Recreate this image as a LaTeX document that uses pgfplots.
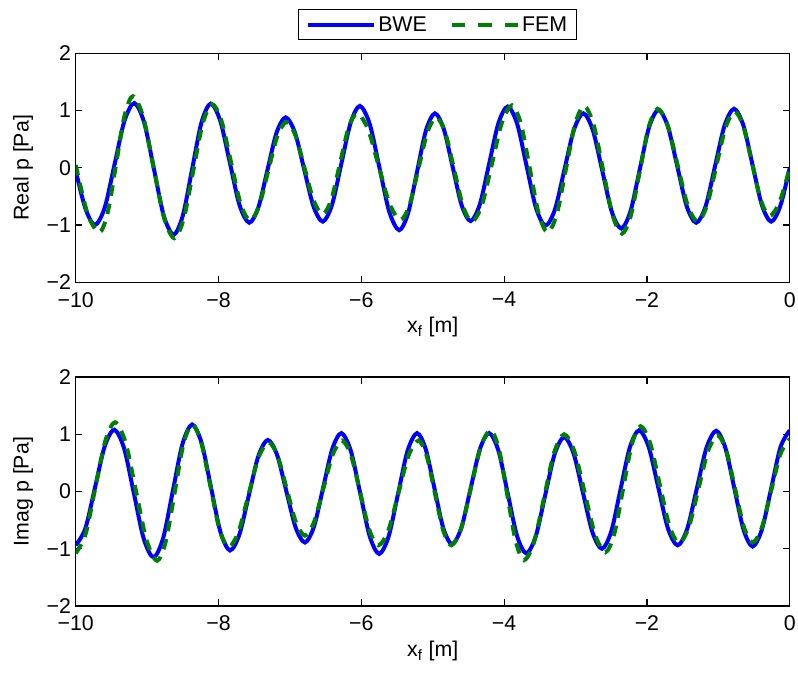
\documentclass[border=0pt]{standalone}
\usepackage{pgfplots}
\pgfplotsset{compat=1.18}
\usepackage{fontspec}
\setmainfont{Liberation Sans}
\definecolor{mblue}{rgb}{0,0,1}
\definecolor{mgreen}{rgb}{0,0.5,0}
\pgfplotsset{
 myaxis/.style={
  scale only axis, width=535.5pt, height=171.75pt,
  xmin=-10,xmax=0,ymin=-2,ymax=2,
  xtick={-10,-8,-6,-4,-2,0}, xticklabels={−10,−8,−6,−4,−2,0},
  ytick={-2,-1,0,1,2}, yticklabels={−2,−1,0,1,2},
  tick align=inside, xtick pos=both, ytick pos=both,
  major tick length=5pt,
  axis line style={line width=0.9pt}, tick style={line width=0.9pt, black},
  every tick label/.append style={font=\fontsize{16}{19}\selectfont},
  label style={font=\fontsize{16}{19}\selectfont},
  xlabel={x\textsubscript{f} [m]},
  xlabel style={at={(axis description cs:0.5,-0.2214)}, anchor=base},
  ylabel style={at={(axis description cs:-0.0738,0.5)}, anchor=center},
  xticklabel style={yshift=-4pt},
 },
 bwe/.style={mblue, line width=3pt, smooth},
 fem/.style={mgreen, line width=3pt, smooth, dash pattern=on 8pt off 6pt},
}
\begin{document}
\begin{tikzpicture}
\useasboundingbox (-56.8pt,-292.3pt) rectangle (541.7pt,211.7pt);
\begin{axis}[myaxis, at={(0pt,0pt)}, anchor=south west,
  ylabel={Real p [Pa]},
  legend columns=2,
  legend image code/.code={\draw[#1] (0pt,0pt) -- (49.5pt,0pt);},
  legend style={at={(axis description cs:0.507,1.124)}, anchor=center, draw=black, line width=0.8pt,
    inner xsep=5pt, inner ysep=3pt,
    font=\fontsize{16}{19}\selectfont, /tikz/every even column/.append style={column sep=15pt}},
]
\addlegendimage{mblue, line width=3pt}
\addlegendentry{BWE}
\addlegendimage{mgreen, line width=3pt, dash pattern=on 10pt off 10pt}
\addlegendentry{FEM}
\addplot[bwe, forget plot] coordinates {
(-10,-0.05) (-9.865,-0.71) (-9.73,-1.00)
(-9.5925,-0.689) (-9.455,0.065) (-9.3175,0.819) (-9.18,1.13)
(-9.0425,0.794) (-8.905,-0.02) (-8.7675,-0.834) (-8.63,-1.17)
(-8.50,-0.835) (-8.37,-0.025) (-8.24,0.785) (-8.11,1.12)
(-7.975,0.816) (-7.84,0.08) (-7.705,-0.656) (-7.57,-0.96)
(-7.4425,-0.692) (-7.315,-0.04) (-7.1875,0.612) (-7.06,0.88)
(-6.93,0.615) (-6.80,-0.03) (-6.67,-0.675) (-6.54,-0.94)
(-6.41,-0.645) (-6.28,0.07) (-6.15,0.785) (-6.02,1.08)
(-5.8825,0.763) (-5.745,-0.005) (-5.6075,-0.773) (-5.47,-1.09)
(-5.345,-0.792) (-5.22,-0.07) (-5.095,0.652) (-4.97,0.95)
(-4.845,0.675) (-4.72,0.01) (-4.595,-0.655) (-4.47,-0.93)
(-4.34,-0.638) (-4.21,0.07) (-4.08,0.778) (-3.95,1.07)
(-3.8175,0.767) (-3.685,0.03) (-3.5525,-0.707) (-3.42,-1.01)
(-3.2875,-0.724) (-3.155,-0.03) (-3.0225,0.664) (-2.89,0.95)
(-2.7575,0.656) (-2.625,-0.055) (-2.4925,-0.766) (-2.36,-1.06)
(-2.23,-0.758) (-2.10,-0.025) (-1.97,0.708) (-1.84,1.01)
(-1.7075,0.723) (-1.575,0.025) (-1.4425,-0.673) (-1.31,-0.96)
(-1.1775,-0.670) (-1.045,0.035) (-0.9125,0.740) (-0.78,1.03)
(-0.65,0.743) (-0.52,0.045) (-0.39,-0.653) (-0.26,-0.94)
(-0.13,-0.66) (0,0.0)
};
\addplot[fem, forget plot] coordinates {
(-10,0.05) (-9.835,-0.80) (-9.67,-1.13)
(-9.5525,-0.782) (-9.435,0.06) (-9.3175,0.903) (-9.20,1.25)
(-9.055,0.888) (-8.91,0.01) (-8.765,-0.867) (-8.62,-1.23)
(-8.4875,-0.888) (-8.355,-0.06) (-8.2225,0.768) (-8.09,1.11)
(-7.9575,0.814) (-7.825,0.095) (-7.6925,-0.624) (-7.56,-0.92)
(-7.4325,-0.669) (-7.305,-0.06) (-7.1775,0.549) (-7.05,0.80)
(-6.9225,0.565) (-6.795,-0.005) (-6.6675,-0.575) (-6.54,-0.81)
(-6.42,-0.553) (-6.30,0.07) (-6.18,0.693) (-6.06,0.95)
(-5.9075,0.678) (-5.755,0.02) (-5.6025,-0.638) (-5.45,-0.91)
(-5.325,-0.649) (-5.20,-0.015) (-5.075,0.619) (-4.95,0.88)
(-4.825,0.615) (-4.70,-0.03) (-4.575,-0.675) (-4.45,-0.94)
(-4.31,-0.644) (-4.17,0.075) (-4.03,0.794) (-3.89,1.09)
(-3.765,0.766) (-3.64,-0.02) (-3.515,-0.806) (-3.39,-1.13)
(-3.2625,-0.807) (-3.135,-0.025) (-3.0075,0.757) (-2.88,1.08)
(-2.7475,0.754) (-2.615,-0.035) (-2.4825,-0.824) (-2.35,-1.15)
(-2.225,-0.832) (-2.10,-0.06) (-1.975,0.712) (-1.85,1.03)
(-1.71,0.743) (-1.57,0.045) (-1.43,-0.653) (-1.29,-0.94)
(-1.16,-0.660) (-1.03,0.02) (-0.90,0.700) (-0.77,0.98)
(-0.6475,0.714) (-0.525,0.07) (-0.4025,-0.574) (-0.28,-0.84)
(-0.14,-0.59) (0,0.0)
};
\end{axis}
\begin{axis}[myaxis, at={(0pt,-242.8pt)}, anchor=south west,
  ylabel={Imag p [Pa]},
]
\addplot[bwe] coordinates {
(-10,-0.94)
(-9.865,-0.645) (-9.73,0.07) (-9.595,0.785) (-9.46,1.08)
(-9.3225,0.754) (-9.185,-0.035) (-9.0475,-0.824) (-8.91,-1.15)
(-8.775,-0.811) (-8.64,0.01) (-8.505,0.831) (-8.37,1.17)
(-8.2375,0.849) (-8.105,0.07) (-7.9725,-0.709) (-7.84,-1.03)
(-7.7075,-0.749) (-7.575,-0.065) (-7.4425,0.619) (-7.31,0.90)
(-7.18,0.639) (-7.05,0.005) (-6.92,-0.629) (-6.79,-0.89)
(-6.6625,-0.611) (-6.535,0.065) (-6.4075,0.741) (-6.28,1.02)
(-6.1475,0.712) (-6.015,-0.035) (-5.8825,-0.782) (-5.75,-1.09)
(-5.6175,-0.782) (-5.485,-0.035) (-5.3525,0.712) (-5.22,1.02)
(-5.0975,0.737) (-4.975,0.05) (-4.8525,-0.637) (-4.73,-0.92)
(-4.60,-0.637) (-4.47,0.05) (-4.34,0.737) (-4.21,1.02)
(-4.08,0.713) (-3.95,-0.03) (-3.82,-0.773) (-3.69,-1.08)
(-3.5575,-0.783) (-3.425,-0.065) (-3.2925,0.653) (-3.16,0.95)
(-3.0275,0.665) (-2.895,-0.025) (-2.7625,-0.715) (-2.63,-1.0)
(-2.50,-0.698) (-2.37,0.035) (-2.24,0.768) (-2.11,1.07)
(-1.975,0.777) (-1.84,0.065) (-1.705,-0.647) (-1.57,-0.94)
(-1.435,-0.648) (-1.30,0.06) (-1.165,0.768) (-1.03,1.06)
(-0.9025,0.765) (-0.775,0.05) (-0.6475,-0.665) (-0.52,-0.96)
(-0.39,-0.664) (-0.26,0.055) (-0.13,0.774) (0,1.07)
};
\addplot[fem] coordinates {
(-10,-1.08)
(-9.8625,-0.745) (-9.725,0.065) (-9.5875,0.875) (-9.45,1.21)
(-9.3025,0.856) (-9.155,0) (-9.0075,-0.856) (-8.86,-1.21)
(-8.7375,-0.862) (-8.615,-0.02) (-8.4925,0.822) (-8.37,1.17)
(-8.2425,0.857) (-8.115,0.10) (-7.9875,-0.657) (-7.86,-0.97)
(-7.72,-0.702) (-7.58,-0.055) (-7.44,0.592) (-7.30,0.86)
(-7.1725,0.622) (-7.045,0.045) (-6.9175,-0.532) (-6.79,-0.77)
(-6.66,-0.528) (-6.53,0.06) (-6.40,0.648) (-6.27,0.89)
(-6.1425,0.623) (-6.015,-0.025) (-5.8875,-0.673) (-5.76,-0.94)
(-5.62,-0.673) (-5.48,-0.025) (-5.34,0.623) (-5.20,0.89)
(-5.085,0.623) (-4.97,-0.025) (-4.855,-0.673) (-4.74,-0.94)
(-4.6025,-0.647) (-4.465,0.065) (-4.3275,0.777) (-4.19,1.07)
(-4.0725,0.739) (-3.955,-0.065) (-3.8375,-0.869) (-3.72,-1.20)
(-3.58,-0.879) (-3.44,-0.10) (-3.30,0.679) (-3.16,1.00)
(-3.015,0.699) (-2.87,-0.03) (-2.725,-0.759) (-2.58,-1.06)
(-2.4575,-0.739) (-2.335,0.04) (-2.2125,0.819) (-2.09,1.14)
(-1.955,0.843) (-1.82,0.12) (-1.685,-0.603) (-1.55,-0.90)
(-1.415,-0.626) (-1.28,0.04) (-1.145,0.706) (-1.01,0.98)
(-0.8875,0.707) (-0.765,0.045) (-0.6425,-0.617) (-0.52,-0.89)
(-0.39,-0.626) (-0.26,0.015) (-0.13,0.656) (0,0.92)
};
\end{axis}
\end{tikzpicture}
\end{document}
